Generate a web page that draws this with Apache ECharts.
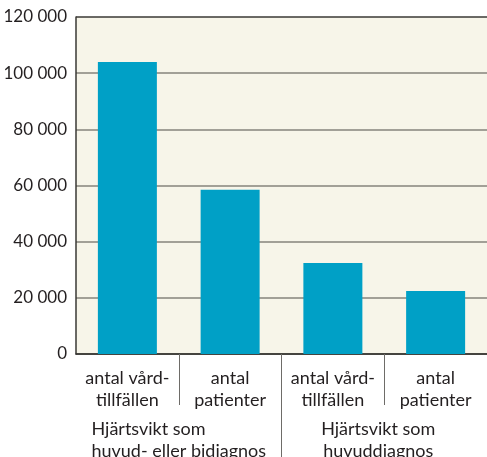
<!DOCTYPE html>
<html>
<head>
<meta charset="utf-8">
<script src="https://cdn.jsdelivr.net/npm/echarts@6/dist/echarts.min.js"></script>
<style>
  html, body { margin: 0; padding: 0; background: #fff; }
  #chart { width: 487px; height: 457px; }
</style>
</head>
<body>
<div id="chart"></div>
<script>
const categories = ['antal vård-\ntillfällen', 'antal\npatienter', 'antal vård-\ntillfällen', 'antal\npatienter']
const groups = ['Hjärtsvikt som\nhuvud- eller bidiagnos', 'Hjärtsvikt som\nhuvuddiagnos']
const values = [104000, 58500, 32400, 22400]

const font = 'Lato, "Open Sans", sans-serif'
const textColor = '#231f20'
const tickColor = '#6e6c68'

const chart = echarts.init(document.getElementById('chart'))
chart.setOption({
  animation: false,
  grid: {
    left: 76,
    right: 0,
    top: 17,
    bottom: 103,
    outerBoundsMode: 'none',
    containLabel: false,
    show: true,
    backgroundColor: '#f7f5e9',
    borderWidth: 0
  },
  xAxis: [
    {
      type: 'category',
      data: categories,
      position: 'bottom',
      axisLine: { lineStyle: { color: '#3a3835', width: 1.5 } },
      axisTick: {
        show: true,
        length: 51,
        interval: (index) => index !== 0,
        lineStyle: { color: tickColor, width: 1 }
      },
      axisLabel: {
        interval: 0,
        margin: 13,
        color: textColor,
        fontFamily: font,
        fontSize: 18,
        lineHeight: 22
      }
    },
    {
      // group labels
      type: 'category',
      data: groups,
      position: 'bottom',
      axisLine: { show: false },
      axisTick: { show: false },
      axisLabel: {
        interval: 0,
        margin: 64,
        color: textColor,
        fontFamily: font,
        fontSize: 18,
        lineHeight: 22,
        formatter: (v, i) => v.split('\n').map((s) => (i === 0 ? '{l|' : '{r|') + s + '}').join('\n'),
        rich: {
          l: { align: 'left', fontFamily: font, fontSize: 18, lineHeight: 22, color: textColor },
          r: { padding: [0, 12, 0, 0], fontFamily: font, fontSize: 18, lineHeight: 22, color: textColor }
        }
      }
    },
    {
      // long separator between the groups
      type: 'category',
      data: ['', '', ''],
      boundaryGap: false,
      position: 'bottom',
      axisLine: { show: false },
      axisLabel: { show: false },
      axisTick: {
        show: true,
        length: 104,
        interval: (index) => index === 1,
        lineStyle: { color: tickColor, width: 1 }
      }
    }
  ],
  yAxis: {
    type: 'value',
    min: 0,
    max: 120000,
    interval: 20000,
    axisLine: { show: true, lineStyle: { color: '#3a3835', width: 1.5 } },
    axisTick: { show: false },
    axisLabel: {
      margin: 9,
      color: textColor,
      fontFamily: font,
      fontSize: 17,
      formatter: (v) => String(v).replace(/\B(?=(\d{3})+(?!\d))/g, ' ')
    },
    splitLine: {
      show: true,
      lineStyle: {
        color: ['#3a3835', '#86837b', '#86837b', '#86837b', '#86837b', '#86837b', '#3a3835'],
        width: 1.5
      }
    }
  },
  series: [
    {
      type: 'bar',
      data: values,
      xAxisIndex: 0,
      barWidth: 59,
      itemStyle: { color: '#00a0c6' }
    }
  ]
})
</script>
</body>
</html>
